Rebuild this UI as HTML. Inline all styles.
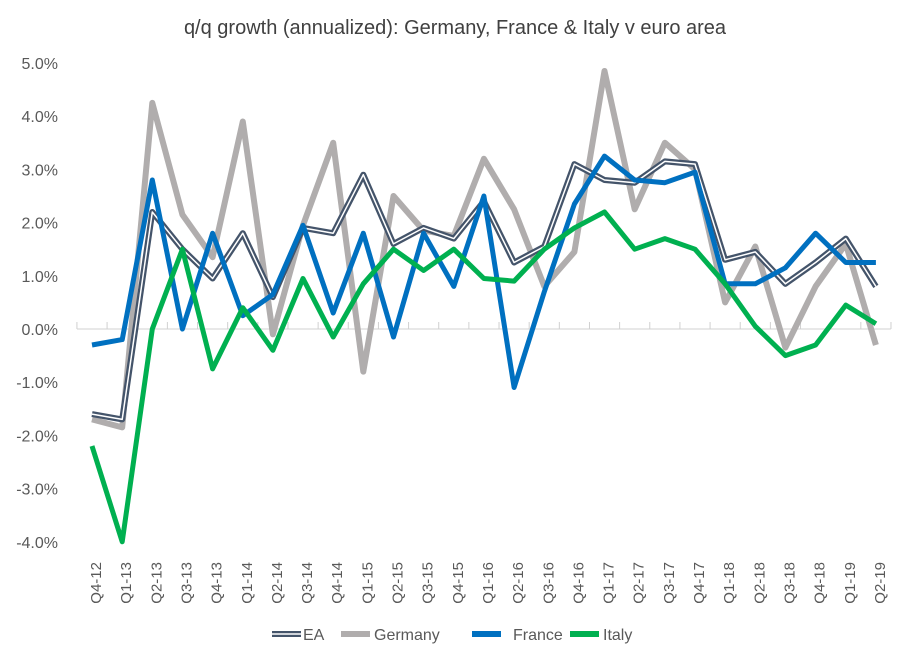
<!DOCTYPE html>
<html><head><meta charset="utf-8"><style>
body{margin:0;background:#fff;font-family:"Liberation Sans",Arial,sans-serif}
svg text{font-family:"Liberation Sans",Arial,sans-serif;fill:#595959}
</style></head><body>
<svg id="c" width="910" height="661" xmlns="http://www.w3.org/2000/svg">
<text x="455" y="34" text-anchor="middle" font-size="20" style="fill:#404040">q/q growth (annualized): Germany, France &amp; Italy v euro area</text>
<g id="axes"></g><g id="lines"></g>
<g id="legend"></g>
</svg>
<script>
const categories=["Q4-12","Q1-13","Q2-13","Q3-13","Q4-13","Q1-14","Q2-14","Q3-14","Q4-14","Q1-15","Q2-15","Q3-15","Q4-15","Q1-16","Q2-16","Q3-16","Q4-16","Q1-17","Q2-17","Q3-17","Q4-17","Q1-18","Q2-18","Q3-18","Q4-18","Q1-19","Q2-19"];
const eaValues=[-1.6,-1.7,2.2,1.5,0.95,1.8,0.6,1.9,1.8,2.9,1.6,1.9,1.7,2.4,1.25,1.55,3.1,2.8,2.75,3.15,3.1,1.3,1.45,0.85,1.25,1.7,0.8];
const germanyValues=[-1.7,-1.85,4.25,2.15,1.35,3.9,-0.1,1.95,3.5,-0.8,2.5,1.85,1.75,3.2,2.25,0.8,1.45,4.85,2.25,3.5,3.0,0.5,1.55,-0.35,0.8,1.6,-0.3];
const franceValues=[-0.3,-0.2,2.8,0.0,1.8,0.25,0.65,1.95,0.3,1.8,-0.15,1.8,0.8,2.5,-1.1,0.7,2.35,3.25,2.8,2.75,2.95,0.85,0.85,1.15,1.8,1.25,1.25];
const italyValues=[-2.2,-4.0,0.0,1.5,-0.75,0.4,-0.4,0.95,-0.15,0.85,1.5,1.1,1.5,0.95,0.9,1.5,1.9,2.2,1.5,1.7,1.5,0.85,0.05,-0.5,-0.3,0.45,0.1];
const yTicks=[5,4,3,2,1,0,-1,-2,-3,-4];
const NS="http://www.w3.org/2000/svg";
const x0=92,dx=30.15;
const X=i=>x0+i*dx;
const Y=v=>329-v*53.2;
function mk(tag,attrs,parent){const e=document.createElementNS(NS,tag);for(const k in attrs)e.setAttribute(k,attrs[k]);parent.appendChild(e);return e;}
const ax=document.getElementById('axes'),ln=document.getElementById('lines'),lg=document.getElementById('legend');
yTicks.forEach(v=>{const t=mk('text',{x:58,y:Y(v)+6,'text-anchor':'end','font-size':16},ax);t.textContent=v.toFixed(1)+'%';

});
const zl=mk('line',{x1:X(0)-15,x2:X(categories.length-1)+15,y1:Y(0),y2:Y(0),stroke:'#d0d0d0','stroke-width':1},ax);


for(let i=0;i<=categories.length;i++){mk('line',{x1:X(i)-dx/2,x2:X(i)-dx/2,y1:Y(0)-7,y2:Y(0),stroke:'#d0d0d0'},ax);}
categories.forEach((c,i)=>{const t=mk('text',{transform:`translate(${X(i)+9},562) rotate(-90)`,'text-anchor':'end','font-size':15},ax);t.textContent=c;

});
function path(vals){return vals.map((v,i)=>(i?'L':'M')+X(i).toFixed(1)+','+Y(v).toFixed(1)).join(' ');}
function series(vals,color,name,w){const p=mk('path',{d:path(vals),fill:'none',stroke:color,'stroke-width':w,'stroke-linejoin':'round'},ln);

return p;}
series(germanyValues,'#b0adad','germany-line',6);
const ea=series(eaValues,'#44546a','ea-line',6);
series(eaValues,'#ffffff','ea-line-inner',1.5);
series(franceValues,'#0070c0','france-line',5);
series(italyValues,'#00b050','italy-line',5);
const leg=[["EA",272,303,'#44546a',true],["Germany",341,374,'#b0adad',false],["France",472,513,'#0070c0',false],["Italy",570,603,'#00b050',false]];
leg.forEach(([n,x,tx,c,inner])=>{mk('line',{x1:x,x2:x+29,y1:634,y2:634,stroke:c,'stroke-width':6},lg);
if(inner)mk('line',{x1:x,x2:x+29,y1:634,y2:634,stroke:'#fff','stroke-width':1.5},lg);
const t=mk('text',{x:tx,y:640,'font-size':16},lg);t.textContent=n;

});
</script>
</body></html>
